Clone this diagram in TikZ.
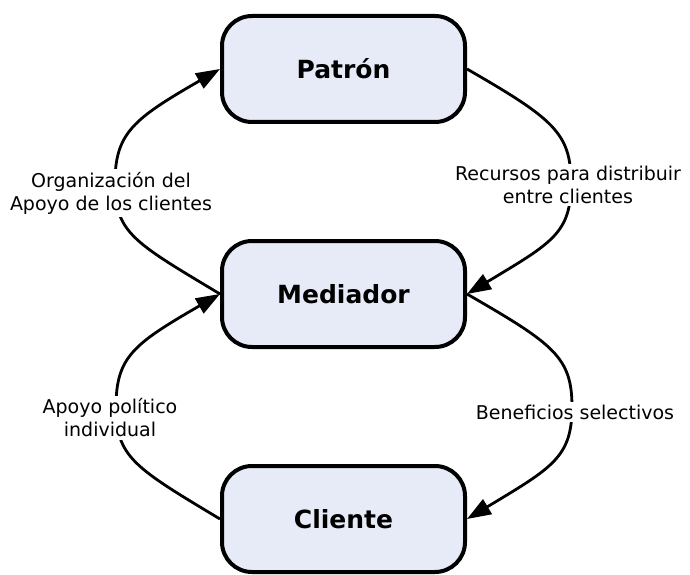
\documentclass[tikz,border=0pt]{standalone}
\usepackage{fontspec}
\setmainfont{DejaVu Sans}
\usetikzlibrary{arrows.meta}
\definecolor{boxfill}{RGB}{230,235,247}
\begin{document}
\begin{tikzpicture}[x=1pt,y=1pt,
  box/.style={draw, line width=4pt, rounded corners=30pt, fill=boxfill,
    minimum width=243pt, minimum height=106pt,
    font=\fontsize{25}{30}\selectfont\bfseries},
  conn/.style={line width=2.8pt, -{Triangle[length=24pt,width=17pt]}},
  lbl/.style={fill=white, inner sep=2.5pt, align=center,
    font=\fontsize{19}{23}\selectfont}]
\useasboundingbox (0,0) rectangle (690,574);
\node[box] (P) at (343.5,505) {Patrón};
\node[box] (M) at (343.5,280) {Mediador};
\node[box] (C) at (343.5,55) {Cliente};
% bend points of the arcs
\coordinate (L1) at (115,391);
\coordinate (R1) at (571,391);
\coordinate (L2) at (116,167);
\coordinate (R2) at (572,167);
% connectors
\draw[conn] (M.west) .. controls +(149:100) and +(0,-50) .. (L1)
                     .. controls +(0,50) and +(210:100) .. (P.west);
\draw[conn] (P.east) .. controls +(-30:100) and +(0,50) .. (R1)
                     .. controls +(0,-50) and +(31:100) .. (M.east);
\draw[conn] (C.west) .. controls +(149:100) and +(0,-50) .. (L2)
                     .. controls +(0,50) and +(210:100) .. (M.west);
\draw[conn] (M.east) .. controls +(-30:100) and +(0,50) .. (R2)
                     .. controls +(0,-50) and +(31:100) .. (C.east);
% labels
\node[lbl] (l1) at (111,381) {Organización del\\Apoyo de los clientes};
\node[lbl] (l2) at (568,389) {Recursos para distribuir\\entre clientes};
\node[lbl] (l3) at (110,156) {Apoyo político\\individual};
\node[lbl] (l4) at (575,162) {Beneficios selectivos};
\end{tikzpicture}
\end{document}
